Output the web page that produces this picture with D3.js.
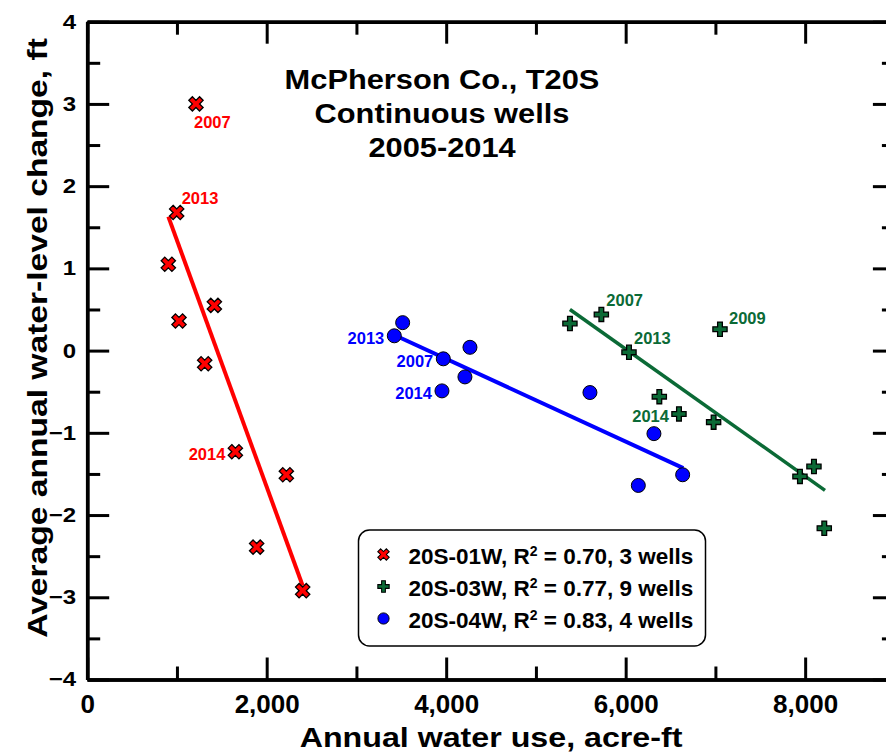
<!DOCTYPE html>
<html>
<head>
<meta charset="utf-8">
<script src="https://cdn.jsdelivr.net/npm/d3@7"></script>
<style>
  body { margin: 0; background: #fff; }
  svg text { font-family: "Liberation Sans", Arial, sans-serif; font-weight: bold; }
</style>
</head>
<body>
<script>
// township 20S-01W (red x)
const w01Use = [1212, 997, 904, 1417, 1023, 1309, 1651, 2219, 1888, 2401];
const w01Change = [3.00, 1.68, 1.05, 0.55, 0.36, -0.16, -1.23, -1.51, -2.39, -2.92];
const w01Year = ["2007", "2013", "", "", "", "", "2014", "", "", ""];
const w01Fit = [[904, 1.63], [2401, -2.86]];

// township 20S-03W (green +)
const w03Use = [5379, 5729, 7051, 6037, 6375, 6594, 6980, 7942, 8098, 8213];
const w03Change = [0.33, 0.44, 0.26, -0.02, -0.56, -0.77, -0.87, -1.53, -1.41, -2.16];
const w03Year = ["", "2007", "2009", "2013", "", "2014", "", "", "", ""];
const w03Fit = [[5379, 0.50], [8221, -1.70]];

// township 20S-04W (blue circle)
const w04Use = [3515, 3422, 4265, 3968, 4209, 3953, 5602, 6315, 6141, 6635];
const w04Change = [0.34, 0.18, 0.04, -0.10, -0.32, -0.49, -0.51, -1.01, -1.64, -1.51];
const w04Year = ["", "2013", "", "2007", "", "2014", "", "", "", ""];
const w04Fit = [[3422, 0.19], [6642, -1.43]];

const legendNames = ["20S-01W", "20S-03W", "20S-04W"];
const legendR2 = ["0.70", "0.77", "0.83"];
const legendWells = [3, 9, 4];

const xMajor = [0, 2000, 4000, 6000, 8000];
const xMinor = [1000, 3000, 5000, 7000, 9000];
const yMajor = [-4, -3, -2, -1, 0, 1, 2, 3, 4];
const yMinor = [-3.5, -2.5, -1.5, -0.5, 0.5, 1.5, 2.5, 3.5];

const titleLines = ["McPherson Co., T20S", "Continuous wells", "2005-2014"];

// which side of the marker each year label sits on
const labelSide = {
  "01W-2007": "below", "01W-2013": "upright", "01W-2014": "left",
  "03W-2007": "upright", "03W-2009": "right", "03W-2013": "upright", "03W-2014": "left",
  "04W-2013": "left", "04W-2007": "left", "04W-2014": "left"
};

const width = 886, height = 753;
const x = d3.scaleLinear().domain([0, 9000]).range([87.2, 894.9]);
const y = d3.scaleLinear().domain([-4, 4]).range([679.5, 21.7]);

const svg = d3.select("body").append("svg")
  .attr("width", width).attr("height", height);
svg.append("rect").attr("width", width).attr("height", height).attr("fill", "#fff");

const series = [
  { key: "01W", use: w01Use, change: w01Change, year: w01Year, fit: w01Fit, color: "#ff0000", shape: "x" },
  { key: "03W", use: w03Use, change: w03Change, year: w03Year, fit: w03Fit, color: "#0b6a36", shape: "plus" },
  { key: "04W", use: w04Use, change: w04Change, year: w04Year, fit: w04Fit, color: "#0000ff", shape: "circle" }
];

// the original lettering is a bit wider than Arial, so stretch it sideways
function wideText(parent, str, px, py, size, sx, rot) {
  return parent.append("text")
    .attr("transform", `translate(${px},${py})` + (rot ? ` rotate(${rot})` : "") + ` scale(${sx},1)`)
    .attr("text-anchor", "middle").style("font-size", size + "px")
    .text(str);
}

// axes: major + minor ticks on all four sides, pointing inward
function styleAxis(g, fontSize) {
  g.select(".domain").attr("stroke", "#000").attr("stroke-width", 3.5);
  g.selectAll(".tick line").attr("stroke", "#000").attr("stroke-width", 3);
  g.selectAll("text").attr("fill", "#000").style("font-size", fontSize + "px");
}

svg.append("g").attr("transform", `translate(0,${y(-4)})`)
  .call(d3.axisBottom(x).tickValues(xMajor).tickSizeInner(-22).tickSizeOuter(0).tickPadding(15)
    .tickFormat(d3.format(",")))
  .call(g => styleAxis(g, 26));
svg.append("g").attr("transform", `translate(0,${y(-4)})`)
  .call(d3.axisBottom(x).tickValues(xMinor).tickSizeInner(-13).tickSizeOuter(0).tickFormat(""))
  .call(g => styleAxis(g, 26));
svg.append("g").attr("transform", `translate(0,${y(4)})`)
  .call(d3.axisTop(x).tickValues(xMajor).tickSizeInner(-22).tickSizeOuter(0).tickFormat(""))
  .call(g => styleAxis(g, 26));
svg.append("g").attr("transform", `translate(0,${y(4)})`)
  .call(d3.axisTop(x).tickValues(xMinor).tickSizeInner(-13).tickSizeOuter(0).tickFormat(""))
  .call(g => styleAxis(g, 26));

const yStretch = 1.2;
svg.append("g").attr("transform", `translate(${x(0)},0)`)
  .call(d3.axisLeft(y).tickValues(yMajor).tickSizeInner(-22).tickSizeOuter(0).tickPadding(11))
  .call(g => styleAxis(g, 20))
  .call(g => g.selectAll("text").attr("x", -11 / yStretch).attr("transform", `scale(${yStretch},1)`));
svg.append("g").attr("transform", `translate(${x(0)},0)`)
  .call(d3.axisLeft(y).tickValues(yMinor).tickSizeInner(-13).tickSizeOuter(0).tickFormat(""))
  .call(g => styleAxis(g, 20));
svg.append("g").attr("transform", `translate(${x(9000)},0)`)
  .call(d3.axisRight(y).tickValues(yMajor).tickSizeInner(-22).tickSizeOuter(0).tickFormat(""))
  .call(g => styleAxis(g, 20));
svg.append("g").attr("transform", `translate(${x(9000)},0)`)
  .call(d3.axisRight(y).tickValues(yMinor).tickSizeInner(-13).tickSizeOuter(0).tickFormat(""))
  .call(g => styleAxis(g, 20));

// axis titles
wideText(svg, "Annual water use, acre-ft", (x(0) + x(9000)) / 2, 747, 28, 1.15);
wideText(svg, "Average annual water-level change, ft", 47, 338, 28, 1.2, -90);

// title block
titleLines.forEach((line, i) => wideText(svg, line, 442, 89 + i * 34, 28, 1.1));

// marker drawing
const crossPath = d3.symbol(d3.symbolCross, 112)();
const xPath = d3.symbol(d3.symbolCross, 128)();
function drawMarker(g, shape, color, scale) {
  scale = scale || 1;
  if (shape === "circle") {
    g.append("circle").attr("r", 7 * scale)
      .attr("fill", color).attr("stroke", "#000").attr("stroke-width", 1);
  } else {
    g.append("path").attr("d", shape === "x" ? xPath : crossPath)
      .attr("transform", (shape === "x" ? "rotate(45)" : "") + ` scale(${scale})`)
      .attr("fill", color).attr("stroke", "#000").attr("stroke-width", 1.3);
  }
}

// regression lines first, markers on top
series.forEach(s => {
  svg.append("line")
    .attr("x1", x(s.fit[0][0])).attr("y1", y(s.fit[0][1]))
    .attr("x2", x(s.fit[1][0])).attr("y2", y(s.fit[1][1]))
    .attr("stroke", s.color).attr("stroke-width", s.shape === "plus" ? 3.5 : 4);
});

series.forEach(s => {
  const pts = s.use.map((u, i) => ({ u: u, c: s.change[i], yr: s.year[i] }));
  const g = svg.append("g");
  g.selectAll("g").data(pts).join("g")
    .attr("transform", d => `translate(${x(d.u)},${y(d.c)})`)
    .each(function () { drawMarker(d3.select(this), s.shape, s.color); });

  g.selectAll("text").data(pts.filter(d => d.yr)).join("text")
    .attr("fill", s.color).style("font-size", "16.5px")
    .each(function (d) {
      const side = labelSide[s.key + "-" + d.yr];
      const px = x(d.u), py = y(d.c);
      const t = d3.select(this).text(d.yr);
      if (side === "left") t.attr("x", px - 10).attr("y", py + 8).attr("text-anchor", "end");
      else if (side === "below") t.attr("x", px - 2).attr("y", py + 24);
      else if (side === "right") t.attr("x", px + 9).attr("y", py - 5);
      else t.attr("x", px + 5).attr("y", py - 8);
    });
});

// legend
const lg = svg.append("g").attr("transform", "translate(358.5,530)");
lg.append("rect").attr("width", 347).attr("height", 116).attr("rx", 11)
  .attr("fill", "#fff").attr("stroke", "#000").attr("stroke-width", 1.5);
series.forEach((s, i) => {
  const row = lg.append("g").attr("transform", `translate(0,${24.5 + i * 32})`);
  drawMarker(row.append("g").attr("transform", "translate(25,0)"), s.shape, s.color, 0.8);
  const t = row.append("text").attr("x", 50).attr("y", 9).style("font-size", "22.5px");
  t.append("tspan").text(legendNames[i] + ", R");
  t.append("tspan").attr("baseline-shift", "super").style("font-size", "14px").text("2");
  t.append("tspan").text(` = ${legendR2[i]}, ${legendWells[i]} wells`);
});
</script>
</body>
</html>
